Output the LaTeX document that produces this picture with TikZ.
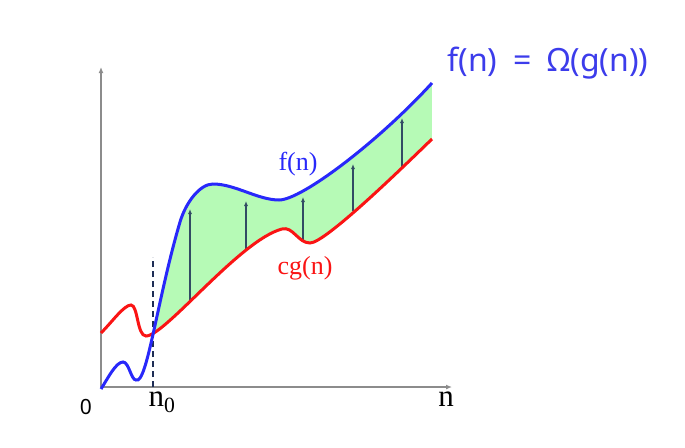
\documentclass[tikz,border=0pt]{standalone}
\usepackage{fontspec}
\usepackage{tikz}
\usetikzlibrary{arrows.meta}
\newfontfamily\serifface{Liberation Serif}
\newfontfamily\sansface{Noto Sans}
\definecolor{fcol}{RGB}{40,40,250}
\definecolor{gcol}{RGB}{250,20,20}
\definecolor{gapfill}{RGB}{182,250,182}
\definecolor{liftcol}{RGB}{50,75,100}
\definecolor{dashcol}{RGB}{30,45,85}
\definecolor{titlecol}{RGB}{60,60,235}

% the two growth curves, in pixel units
\def\fpath{(101,389) .. controls (108,378) and (116,362) .. (123,362)
  .. controls (129,362) and (131,380) .. (136,380)
  .. controls (147,385) and (157,300) .. (180,222)
  .. controls (186,202) and (200,184) .. (213,184)
  .. controls (235,184) and (258,200) .. (279,200)
  .. controls (302,200) and (380,140) .. (432,83)}
\def\gpath{(101,333) .. controls (112,322) and (124,305) .. (131,305)
  .. controls (138,305) and (137,336) .. (146,336)
  .. controls (165,336) and (240,240) .. (282,229)
  .. controls (293,226) and (298,243) .. (310,243)
  .. controls (325,243) and (400,170) .. (432,139)}

\begin{document}
\begin{tikzpicture}[x=1pt,y=-1pt]
  \tikzstyle{axis}=[draw=gray!90, line width=1.6pt, -{Latex[length=6pt,width=5pt]}]
  \tikzstyle{curve}=[line width=3pt]
  \tikzstyle{lift}=[draw=liftcol, line width=1.2pt, -{Latex[length=5pt,width=4pt]}]
  \useasboundingbox (0,0) rectangle (685,447);
  % shaded gap between the curves
  \begin{scope}
    \clip \gpath -- (432,0) -- (101,0) -- cycle;
    \fill[gapfill] \fpath -- (432,447) -- (101,447) -- cycle;
  \end{scope}
  \coordinate (origin) at (101,387);
  \coordinate (xend) at (452,387);
  \coordinate (yend) at (101,67);
  \draw[axis] (origin) -- (xend);
  \draw[axis] (origin) -- (yend);
  \coordinate (ntop) at (153,257);
  \coordinate (nbot) at (153,387);
  \draw[dashcol, line width=2.2pt, dash pattern=on 6pt off 4pt] (nbot) -- (ntop);
  \foreach \x/\lo/\hi [count=\i] in {190/300/209, 246/249/201, 303/242/197, 353/211/164, 402/167/118}{
    \coordinate (lo\i) at (\x,\lo);
    \coordinate (hi\i) at (\x,\hi);
    \draw[lift] (lo\i) -- (hi\i);
  }
  \draw[curve, gcol] \gpath;
  \draw[curve, fcol] \fpath;
  \node[text=fcol, font=\serifface\fontsize{26}{28}\selectfont] (flabel) at (298,164) {f(n)};
  \node[text=gcol, font=\serifface\fontsize{26}{28}\selectfont] (glabel) at (305,268) {cg(n)};
  \node[font=\sansface\fontsize{21}{24}\selectfont] (zero) at (86,407) {0};
  \node[font=\serifface\fontsize{31}{34}\selectfont] (nzero) at (162,402) {n\textsubscript{0}};
  \node[font=\serifface\fontsize{31}{34}\selectfont] (nlabel) at (446,399) {n};
  \node[text=titlecol, font=\sansface\fontsize{32}{34}\selectfont] (title) at (548,63) {f(n)\enspace=\enspace Ω(g(n))};
\end{tikzpicture}
\end{document}
